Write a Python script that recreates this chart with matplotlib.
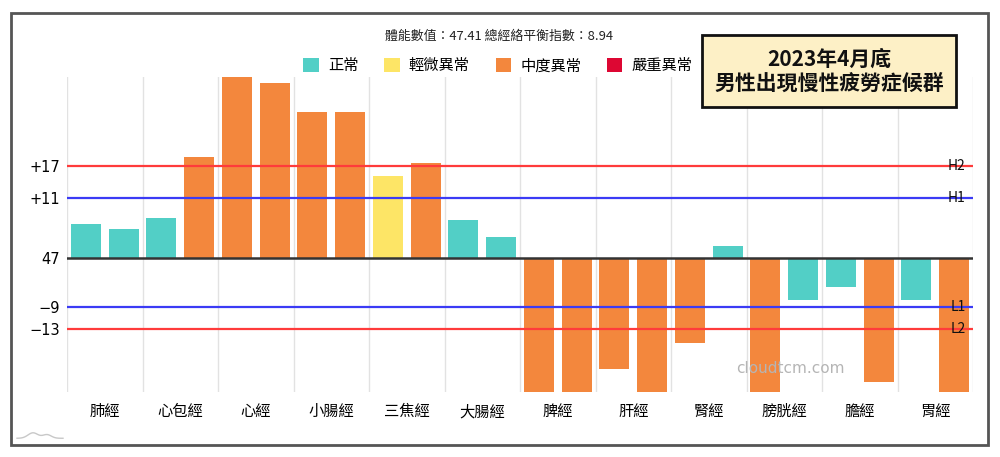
import matplotlib
matplotlib.use("Agg")
import matplotlib.pyplot as plt
from matplotlib.patches import Rectangle, Patch
from matplotlib.lines import Line2D
import numpy as np

plt.rcParams['font.family'] = ['Noto Sans CJK TC', 'DejaVu Sans']

# meridians, left / right values relative to the 47 baseline
meridians = ['肺經', '心包經', '心經', '小腸經', '三焦經', '大腸經',
             '脾經', '肝經', '腎經', '膀胱經', '膽經', '胃經']
left_vals = [6.3, 7.4, 33.4, 27.0, 15.2, 7.1, -25, -20.4, -15.7, -25, -5.4, -7.75]
right_vals = [5.35, 18.6, 32.3, 27.0, 17.5, 3.9, -25, -25, 2.3, -7.75, -22.9, -25]
# 0 normal, 1 mild, 2 moderate, 3 severe
left_status = [0, 0, 2, 2, 1, 0, 2, 2, 2, 2, 0, 0]
right_status = [0, 2, 2, 2, 2, 0, 2, 2, 0, 0, 2, 2]

status_names = ['正常', '輕微異常', '中度異常', '嚴重異常']
status_colors = ['#52CFC6', '#FDE566', '#F3873D', '#DD0733']

ref_vals = [17, 11, -9, -13]
ref_names = ['H2', 'H1', 'L1', 'L2']
ref_colors = ['#FF3B3B', '#3B3BF5', '#3B3BF5', '#FF3B3B']

ytick_vals = [17, 11, 0, -9, -13]
ytick_labels = ['+17', '+11', '47', '\u22129', '\u221213']

header = '體能數值：47.41 總經絡平衡指數：8.94'
box_text = '2023年4月底\n男性出現慢性疲勞症候群'

fig = plt.figure(figsize=(10, 4.57), dpi=100)
ax = fig.add_axes([0.067, 0.1422, 0.906, 0.6893])

x = np.arange(len(meridians)) + 0.5
ax.bar(x - 0.25, left_vals, width=0.4, color=[status_colors[s] for s in left_status], zorder=2)
ax.bar(x + 0.25, right_vals, width=0.4, color=[status_colors[s] for s in right_status], zorder=2)

for v, name, c in zip(ref_vals, ref_names, ref_colors):
    ax.axhline(v, color=c, lw=1.6, zorder=3)
    ax.text(0.992, v, name, transform=ax.get_yaxis_transform(), ha='right', va='center',
            fontsize=10, color='#111111', zorder=4)
ax.axhline(0, color='#333333', lw=1.8, zorder=3)

ax.set_xlim(0, len(meridians))
ax.set_ylim(-24.7, 33.4)
ax.set_xticks(np.arange(len(meridians) + 1), minor=False)
ax.set_xticklabels([])
ax.set_xticks(x, minor=True)
ax.set_xticklabels(meridians, minor=True, fontsize=11)
ax.tick_params(axis='x', which='both', length=0, pad=8)
ax.grid(axis='x', which='major', color='#E2E2E2', lw=1, zorder=0)
ax.set_yticks(ytick_vals)
ax.set_yticklabels(ytick_labels, fontsize=10.5, family=['DejaVu Sans'])
ax.tick_params(axis='y', length=0, pad=5)
for s in ax.spines.values():
    s.set_visible(False)

fig.text(0.499, 0.921, header, ha='center', va='center', fontsize=9.3, color='#222222')

handles = [Patch(facecolor=c, edgecolor='none') for c in status_colors]
fig.legend(handles, status_names, loc='center', bbox_to_anchor=(0.498, 0.856), ncol=4,
           frameon=False, fontsize=11, handlelength=1.0, handleheight=1.0,
           handletextpad=0.6, columnspacing=1.7)

fig.patches.append(Rectangle((0.702, 0.766), 0.254, 0.157, transform=fig.transFigure,
                             facecolor='#FDF0C6', edgecolor='#111111', lw=2, zorder=5))
fig.text(0.829, 0.8445, box_text, ha='center', va='center', fontsize=15, fontweight='bold',
         linespacing=1.15, color='#111111', zorder=6)

fig.text(0.79, 0.193, 'cloudtcm.com', ha='center', va='center', fontsize=11,
         color='#B5B5B5', family=['DejaVu Sans'], zorder=6)

# little mountain logo at the bottom left
lx = np.linspace(0.017, 0.063, 30)
ly = 0.041 + 0.012 * np.exp(-((lx - 0.033) / 0.007) ** 2) + 0.008 * np.exp(-((lx - 0.047) / 0.006) ** 2)
fig.add_artist(Line2D(lx, ly, transform=fig.transFigure, color='#C8C8C8', lw=1))

fig.patches.append(Rectangle((0.011, 0.026), 0.977, 0.946, transform=fig.transFigure,
                             facecolor='none', edgecolor='#555555', lw=2, zorder=5))

fig.savefig('out.png', dpi=100)
